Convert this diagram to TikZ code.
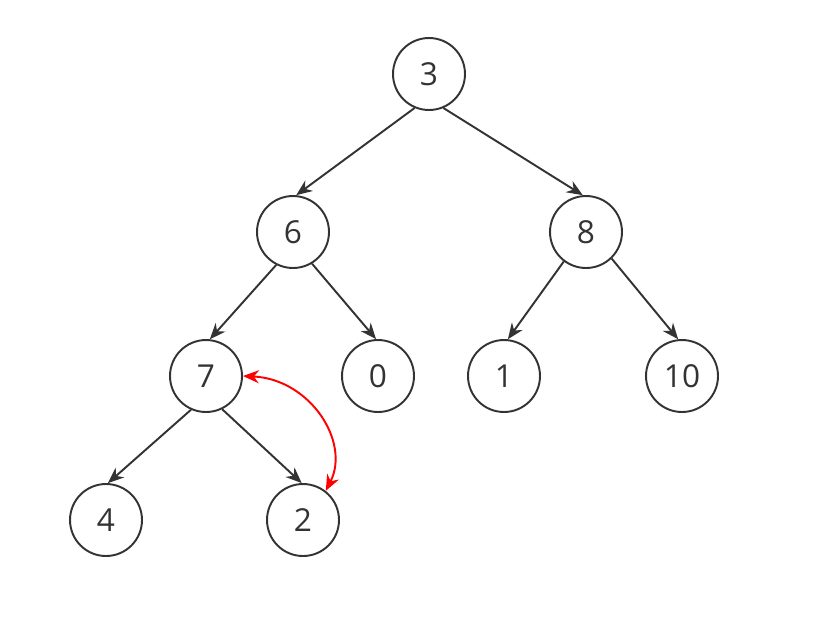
\documentclass[tikz,border=0pt]{standalone}
\usepackage{fontspec}
\setmainfont{Open Sans}
\usepackage{xcolor}
\definecolor{cLine}{HTML}{333333}
\definecolor{cSwap}{HTML}{FF0000}
\usepackage{tikz}
\usetikzlibrary{arrows.meta}
\tikzset{
  node-key/.style={draw=cLine,line width=1.1pt,circle,minimum size=1.44cm,
    inner sep=0pt,text=cLine,font=\fontsize{18}{20}\selectfont},
  arrow/.style={-{Stealth[length=3.2mm,width=2.6mm]},line width=1.1pt,draw=cLine},
  arrow-swap/.style={{Stealth[length=3.2mm,width=2.6mm]}-{Stealth[length=3.2mm,width=2.6mm]},
    line width=1.1pt,draw=cSwap},
}
\begin{document}
\begin{tikzpicture}[x=0.02cm,y=-0.02cm]
  \useasboundingbox (0,0) rectangle (824,626);
  % levels of the heap
  \node[node-key] (n3)  at (429,74)  {3};
  \node[node-key] (n6)  at (293,232) {6};
  \node[node-key] (n8)  at (586,232) {8};
  \node[node-key] (n7)  at (206,376) {7};
  \node[node-key] (n0)  at (378,376) {0};
  \node[node-key] (n1)  at (504,376) {1};
  \node[node-key] (n10) at (682,376) {10};
  \node[node-key] (n4)  at (106,520) {4};
  \node[node-key] (n2)  at (303,520) {2};
  \draw[arrow] (n3.247) -- (n6.85);
  \draw[arrow] (n3.293) -- (n8.95);
  \draw[arrow] (n6.243) -- (n7.84);
  \draw[arrow] (n6.301) -- (n0.93);
  \draw[arrow] (n8.233) -- (n1.84);
  \draw[arrow] (n8.314) -- (n10.96);
  \draw[arrow] (n7.246) -- (n4.87);
  \draw[arrow] (n7.296) -- (n2.92);
  % swap 7 <-> 2
  \draw[arrow-swap] (n7.east) .. controls +(67,3) and +(25,-49) .. (n2.52);
\end{tikzpicture}
\end{document}
